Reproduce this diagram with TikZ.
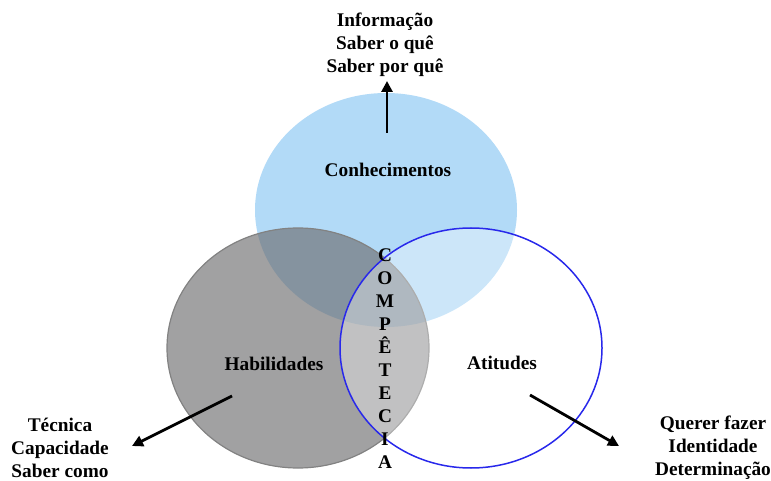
\documentclass[tikz,border=0pt]{standalone}
\usepackage{fontspec}
\setmainfont{Liberation Serif}
\usetikzlibrary{arrows.meta}
\definecolor{skyb}{RGB}{178,218,247}
\definecolor{grayfill}{RGB}{110,110,112}
\definecolor{grayline}{RGB}{130,130,130}
\definecolor{ringblue}{RGB}{40,40,235}
\tikzset{
  lbl/.style={font=\bfseries\fontsize{19.3}{23}\selectfont, align=center, inner sep=0pt},
  bigarrow/.style={line width=2.8pt, -{Triangle[length=11pt,width=11pt]}},
}
\begin{document}
\begin{tikzpicture}[x=1pt,y=-1pt]
\useasboundingbox (0,0) rectangle (771,481);
% circles
\fill[skyb] (386,210) ellipse [x radius=131, y radius=117];
\draw[grayline, line width=1.2pt, fill=grayfill, fill opacity=0.65] (298,348) ellipse [x radius=131, y radius=120];
\draw[ringblue, line width=1.5pt, fill=white, fill opacity=0.35] (471,348) ellipse [x radius=131, y radius=120];
% labels
\node[lbl] (con) at (388,170) {Conhecimentos};
\node[lbl] (hab) at (274,364) {Habilidades};
\node[lbl] (ati) at (502,363) {Atitudes};
\node[lbl] (comp) at (385,359) {C\\O\\M\\P\\Ê\\T\\E\\C\\I\\A};
\node[lbl] (top) at (385,45) {Informação\\Saber o quê\\Saber por quê};
\node[lbl] (left) at (60,448) {Técnica\\Capacidade\\Saber como};
\node[lbl] (right) at (713,448) {Querer fazer\\Identidade\\Determinação};
% arrows
\coordinate (t0) at (387,133);
\coordinate (t1) at (387,81);
\coordinate (l0) at (232,396);
\coordinate (l1) at (132,446);
\coordinate (r0) at (530,395);
\coordinate (r1) at (619,446);
\draw[bigarrow] (t0) -- (t1);
\draw[bigarrow] (l0) -- (l1);
\draw[bigarrow] (r0) -- (r1);
\end{tikzpicture}
\end{document}
